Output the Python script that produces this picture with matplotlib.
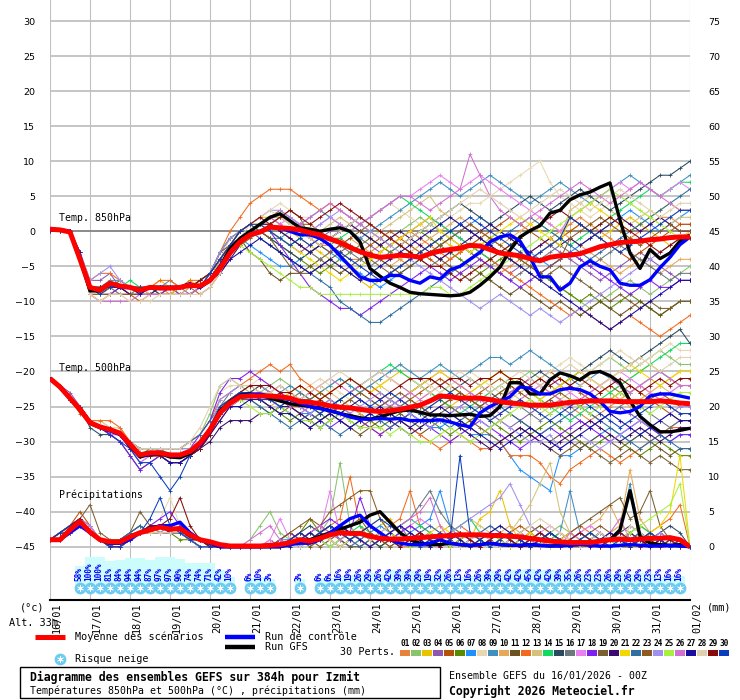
import numpy as np
import matplotlib
matplotlib.use("Agg")
import matplotlib.pyplot as plt
from matplotlib.patches import Rectangle
from matplotlib.transforms import blended_transform_factory

MONO = 'DejaVu Sans Mono'

# 6-hourly steps from 16/01 00Z to 01/02 00Z (384h) -> 65 steps, one label per day
dates = ['16/01', '17/01', '18/01', '19/01', '20/01', '21/01', '22/01', '23/01', '24/01',
         '25/01', '26/01', '27/01', '28/01', '29/01', '30/01', '31/01', '01/02']
left_ticks = [30, 25, 20, 15, 10, 5, 0, -5, -10, -15, -20, -25, -30, -35, -40, -45]
right_labels = ['75', '70', '65', '60', '55', '50', '45', '40', '35', '30',
                '25', '20', '15', '10', '5', '0']

member_colors = ['#e8823a', '#88c46a', '#e9c200', '#8e57b0', '#b5520a', '#5a8a00', '#1e90ff',
                 '#e8d8b0', '#3f8fbf', '#e8a85a', '#6b5220', '#f26b1d', '#d4c27a', '#10d860',
                 '#2a4a60', '#6c7880', '#e880f0', '#8020f0', '#7a6030', '#3a0a70', '#f0d800',
                 '#2e6ea0', '#8e5a20', '#a090f0', '#a8f040', '#d070d0', '#1a0ea0', '#e0d0b0',
                 '#8a0a0a', '#0a3cc0']

# ---- 850 hPa temperature (degC) ----
t850_mean = [0.3, 0.2, -0.1, -4, -8, -8.4, -7.4, -7.8, -8, -8.4, -8, -8.1, -8.1,
             -8, -7.7, -7.8, -7, -5.3, -3.1, -1.5, -0.5, -0.1, 0.6, 0.5, 0.4, 0.2,
             -0.2, -0.5, -1.1, -1.6, -2.3, -2.9, -3.4, -3.7, -3.6, -3.4, -3.5, -3.7, -3.2,
             -2.8, -2.6, -2.4, -2, -2.1, -2.6, -3.1, -3.3, -3.5, -3.9, -4.2, -3.7, -3.5,
             -3.4, -3.2, -2.7, -2.2, -1.9, -1.6, -1.5, -1.4, -1.2, -1.1, -0.9, -0.8, -0.8]
t850_control = [0.3, 0.2, 0, -4, -8, -8.5, -7.5, -8, -8, -8.5, -8, -8, -8,
                -8, -7.5, -8, -7, -5, -3, -1.5, -0.5, 0, 0.5, 0.5, 0, -0.5,
                -0.5, -1, -2, -3.5, -5, -6.5, -7, -7, -6.3, -6.3, -7, -7.4, -6.5,
                -6.8, -5.5, -5, -4, -3, -1.5, -0.8, -0.5, -1.4, -3.7, -6.5, -6.5, -8.4,
                -7.4, -5.1, -4.2, -5, -5.5, -7.4, -7.7, -7.7, -6.9, -5.2, -3.7, -1.9, -0.8]
t850_gfs = [0.3, 0.2, 0, -4, -8.5, -8.5, -7.5, -8, -8, -8.5, -8, -8, -8,
            -8, -7.5, -8, -7, -5, -2.5, -1, 0, 1, 2, 2.5, 1.5, 0.5,
            0.3, 0, 0.3, 0.5, 0, -1.5, -5.3, -6.4, -7.4, -8, -8.7, -8.9, -9,
            -9.1, -9.2, -9.1, -8.7, -7.7, -6.5, -5.1, -2.7, -0.8, 0.1, 0.8, 2.6, 3,
            4.5, 5.2, 5.6, 6.3, 6.9, 1.6, -3.1, -5.3, -2.6, -3.9, -3.1, -1.4, -0.5]
t850_members = [
    [0, 0, 0, -4, -9, -9, -8, -8, -9, -9, -8, -8, -9, -8, -8, -8, -7, -4, -2, -1, 0, 1, 1, 2, 1, 0,
     -1, -2, -2, -3, -4, -4, -3, -2, -3, -4, -5, -4, -3, -2, -1, -2, -3, -4, -5, -6, -5, -4, -3, -2, -1, 0,
     1, 2, 1, 0, -1, -2, -1, 0, 1, 2, 2, 1, 1],
    [0, 0, 0, -3, -8, -9, -8, -7, -8, -8, -9, -8, -8, -9, -8, -8, -6, -3, -1, 0, 0, 1, 2, 2, 1, 1,
     0, -1, -1, 0, 1, 0, -1, -2, -1, 0, 1, 2, 1, 0, -1, -2, -3, -2, -1, 0, -1, -2, -4, -6, -7, -8,
     -9, -10, -11, -10, -9, -8, -7, -8, -9, -8, -7, -6, -5],
    [0, 0, 0, -4, -8, -8, -7, -8, -8, -9, -8, -7, -8, -8, -7, -8, -7, -5, -2, 0, 1, 2, 2, 1, 0, -1,
     -2, -3, -4, -5, -6, -7, -8, -7, -6, -5, -4, -3, -2, -1, -2, -3, -2, -1, -2, -3, -4, -5, -4, -3, -2, -1,
     0, 1, 0, -1, 0, 1, 2, 1, 0, -1, -2, -1, 0],
    [0, 0, 0, -3, -7, -7, -6, -8, -9, -9, -8, -8, -8, -8, -9, -8, -7, -5, -2, -1, 0, 1, 0, -1, -2, -3,
     -2, -1, 0, 1, 0, -1, -2, -3, -2, -1, 0, 1, 2, 1, 0, -1, -2, -3, -4, -5, -6, -5, -4, -3, -2, -3,
     -4, -5, -6, -7, -6, -5, -4, -3, -4, -5, -6, -7, -7],
    [0, 0, 0, -4, -9, -10, -9, -9, -9, -10, -9, -9, -9, -8, -8, -9, -8, -6, -3, -1, 0, 1, 2, 3, 2, 1,
     1, 0, -1, -1, -2, -3, -2, -1, 0, -1, -2, -3, -4, -5, -4, -3, -2, -1, 0, 1, 2, 1, 0, -1, -2, -1,
     0, 1, 0, -1, -2, -3, -4, -3, -2, -1, 0, 1, 1],
    [0, 0, 0, -3, -8, -8, -8, -7, -8, -8, -8, -9, -9, -8, -8, -7, -6, -3, -1, 0, 1, 0, -1, -2, -3, -4,
     -5, -6, -5, -4, -3, -2, -1, -2, -3, -2, -1, 0, -1, -2, -3, -4, -5, -6, -5, -4, -3, -4, -5, -6, -7, -8,
     -9, -10, -9, -10, -11, -10, -9, -10, -11, -12, -11, -10, -10],
    [0, 0, 0, -4, -8, -9, -8, -8, -8, -9, -9, -8, -8, -8, -8, -8, -7, -4, -2, -1, -2, -3, -4, -5, -5, -4,
     -3, -2, -3, -4, -5, -6, -7, -8, -7, -6, -5, -4, -3, -2, -1, 0, 1, 2, 1, 0, -1, -2, -3, -4, -5, -4,
     -3, -2, -1, 0, 1, 2, 3, 2, 1, 0, 1, 2, 3],
    [0, 0, 0, -4, -9, -10, -9, -9, -10, -10, -9, -9, -9, -9, -9, -8, -7, -4, -1, 0, 1, 2, 3, 4, 3, 2,
     2, 3, 2, 1, 0, 1, 2, 3, 4, 3, 2, 1, 0, 1, 2, 3, 4, 4, 5, 6, 7, 8, 9, 10, 7, 5,
     4, 3, 2, 3, 4, 5, 4, 3, 2, 1, 2, 3, 3],
    [0, 0, 0, -3, -8, -8, -7, -7, -8, -8, -8, -8, -7, -8, -8, -7, -6, -4, -2, 0, 1, 0, -1, -1, 0, 1,
     2, 3, 2, 1, 0, -1, 0, 1, 2, 3, 4, 5, 6, 7, 6, 5, 6, 7, 8, 7, 6, 5, 4, 5, 6, 7,
     6, 5, 4, 5, 6, 7, 8, 7, 6, 5, 6, 7, 8],
    [0, 0, 0, -4, -9, -9, -8, -9, -9, -8, -9, -9, -9, -9, -8, -8, -7, -5, -3, -1, 0, 1, 1, 0, -1, -2,
     -3, -4, -3, -2, -1, -2, -3, -4, -5, -4, -3, -2, -1, 0, 1, 2, 1, 0, -1, -2, -1, 0, 1, 2, 1, 0,
     -1, -2, -3, -4, -5, -6, -5, -4, -5, -6, -5, -4, -4],
    [0, 0, 0, -4, -8, -9, -9, -8, -8, -9, -8, -8, -8, -8, -8, -8, -6, -3, -2, -1, -3, -4, -6, -7, -6, -6,
     -5, -4, -5, -6, -5, -4, -3, -4, -5, -6, -5, -4, -3, -4, -5, -6, -7, -6, -7, -8, -9, -8, -9, -10, -11, -10,
     -11, -12, -11, -10, -11, -12, -11, -10, -11, -12, -11, -10, -10],
    [0, 0, 0, -3, -7, -6, -6, -7, -8, -8, -8, -7, -7, -8, -7, -7, -6, -3, 0, 2, 4, 5, 6, 6, 6, 5,
     4, 3, 4, 3, 2, 1, 0, -1, -2, -1, 0, -1, -2, -3, -4, -3, -2, -3, -4, -5, -6, -7, -8, -9, -10, -11,
     -12, -11, -12, -13, -14, -13, -12, -13, -14, -15, -14, -13, -12],
    [0, 0, 0, -4, -8, -9, -9, -9, -9, -9, -9, -9, -8, -9, -9, -8, -7, -5, -3, -2, -1, 0, 1, 2, 1, 0,
     -1, 0, 1, 2, 1, 0, -1, 0, 1, 2, 3, 4, 5, 3, 2, 1, 0, -1, -2, -3, -4, -5, -4, -3, -2, -1,
     3, 4, 5, 4, 3, 2, 1, 2, 3, 2, 1, 2, 2],
    [0, 0, 0, -3, -8, -8, -8, -8, -7, -8, -8, -8, -8, -8, -8, -7, -6, -4, -2, 0, 0, 1, 0, -1, -2, -1,
     0, -1, -2, -1, 0, 1, 2, 3, 4, 5, 4, 3, 2, 1, 0, -1, -2, -3, -4, -3, -2, -1, 0, 1, 0, -1,
     -2, -1, 0, 1, 2, 3, 4, 5, 6, 5, 6, 7, 7],
    [0, 0, 0, -3, -8, -9, -8, -8, -9, -9, -8, -9, -8, -8, -8, -8, -6, -4, -2, -1, 0, 0, -1, -2, -3, -4,
     -3, -2, -1, 0, 1, 2, 1, 0, -1, -2, -1, 0, 1, 2, 3, 4, 3, 2, 1, 2, 3, 4, 5, 4, 3, 4,
     5, 6, 5, 4, 3, 4, 5, 6, 7, 8, 8, 9, 10],
    [0, 0, 0, -4, -8, -8, -8, -9, -9, -8, -8, -8, -8, -8, -8, -8, -7, -4, -2, -1, 0, 0, 1, 0, -1, -2,
     -3, -4, -3, -2, -3, -4, -5, -4, -3, -2, -3, -4, -5, -4, -3, -2, -3, -4, -5, -6, -7, -6, -5, -4, -3, -2,
     -3, -4, -5, -4, -3, -2, -3, -4, -5, -6, -7, -6, -6],
    [0, 0, 0, -4, -9, -9, -9, -9, -9, -9, -9, -9, -9, -9, -9, -8, -7, -4, -2, -1, 0, 1, 2, 1, 2, 1,
     0, 1, 2, 1, 0, 1, 2, 3, 4, 5, 5, 6, 7, 8, 7, 6, 7, 8, 7, 6, 5, 4, 3, 2, 1, 0,
     2, 3, 4, 5, 6, 7, 6, 7, 6, 5, 6, 7, 6],
    [0, 0, 0, -3, -8, -9, -9, -8, -8, -9, -9, -9, -8, -9, -9, -8, -7, -4, -2, -1, 0, 1, 0, -2, -4, -6,
     -8, -9, -10, -11, -11, -12, -11, -10, -9, -8, -7, -6, -5, -6, -7, -6, -5, -4, -5, -6, -7, -8, -7, -6, -5, -4,
     -3, -4, -5, -6, -7, -8, -9, -8, -7, -8, -8, -7, -7],
    [0, 0, 0, -4, -8, -9, -8, -8, -8, -8, -8, -8, -8, -8, -8, -7, -6, -4, -2, 0, 1, 0, -1, -3, -5, -6,
     -6, -5, -4, -3, -2, -3, -4, -5, -6, -5, -4, -3, -2, -1, 0, 1, 0, -1, -2, -3, -4, -5, -6, -7, -6, -5,
     -6, -7, -8, -9, -10, -9, -10, -11, -10, -11, -11, -10, -10],
    [0, 0, 0, -4, -8, -8, -8, -8, -9, -9, -9, -8, -8, -8, -8, -8, -7, -6, -4, -2, 0, 1, 1, 0, -1, -2,
     -3, -2, -1, 0, 1, 0, -1, -2, -1, 0, -1, -2, -3, -4, -3, -2, -1, 0, 1, 0, -1, -2, -3, -2, -1, -2,
     -1, -2, -1, 0, 1, 2, 1, 0, 1, 2, 1, 0, 0],
    [0, 0, 0, -4, -9, -9, -8, -8, -8, -9, -9, -9, -9, -8, -8, -8, -7, -4, -2, 0, 1, 1, 0, -1, -2, -3,
     -4, -5, -6, -7, -6, -5, -4, -3, -2, -1, 0, 1, 2, 0, -1, -2, -3, -2, -1, 0, 1, 2, 1, 0, -1, -2,
     2, 3, 4, 3, 2, 1, 0, 1, 2, 3, 4, 3, 3],
    [0, 0, 0, -3, -8, -8, -8, -8, -8, -8, -8, -8, -8, -8, -8, -7, -6, -3, -1, 0, 0, -1, -2, -3, -4, -5,
     -6, -7, -8, -10, -11, -12, -13, -13, -12, -11, -10, -9, -8, -7, -6, -5, -4, -3, -2, -1, 0, 1, 2, 1, 0, -1,
     -2, -3, -4, -3, -2, -1, 0, 1, 2, 3, 4, 5, 6],
    [0, 0, 0, -4, -9, -9, -9, -9, -9, -9, -9, -9, -9, -9, -9, -8, -7, -5, -3, -2, -1, 0, 1, 2, 3, 2,
     -1, -2, -3, -2, -1, 0, 1, 0, -1, -2, -3, -4, -3, -2, -1, 0, 1, 0, -1, -2, -3, -4, -5, -6, -5, -4,
     -1, 0, 1, 2, 1, 0, -1, -2, -1, 0, 1, 0, 0],
    [0, 0, 0, -3, -7, -6, -5, -7, -8, -8, -8, -8, -8, -8, -8, -8, -6, -3, -1, 0, 1, 2, 3, 3, 2, 1,
     0, 1, 2, 3, 2, 1, 0, -1, -2, -3, -4, -5, -6, -7, -8, -9, -10, -11, -10, -9, -10, -11, -12, -11, -12, -13,
     -12, -11, -10, -9, -8, -7, -6, -5, -4, -3, -2, -1, -1],
    [0, 0, 0, -4, -8, -9, -8, -8, -8, -8, -8, -8, -8, -8, -8, -8, -7, -5, -3, -2, -3, -4, -5, -6, -7, -8,
     -8, -9, -9, -9, -9, -9, -9, -9, -9, -9, -9, -9, -8, -8, -9, -9, -8, -7, -6, -5, -4, -3, -2, -1, 0, 1,
     2, 3, 4, 5, 6, 5, 4, 3, 2, 1, 0, -1, -1],
    [0, 0, 0, -4, -9, -10, -10, -10, -10, -9, -9, -9, -9, -9, -9, -8, -7, -5, -3, -1, 0, 1, 2, 1, 0, 1,
     2, 3, 4, 3, 2, 1, 2, 3, 4, 5, 5, 4, 3, 4, 5, 6, 11, 8, 5, 3, 2, 1, 2, 3, 4, 5,
     6, 7, 6, 5, 4, 5, 6, 7, 6, 5, 4, 3, 3],
    [0, 0, 0, -3, -8, -8, -8, -8, -8, -9, -8, -8, -8, -8, -8, -8, -7, -6, -4, -3, -2, -1, -2, -3, -4, -5,
     -6, -5, -4, -5, -6, -7, -6, -5, -4, -3, -2, -1, 0, 1, 2, 1, 0, -1, -2, -3, -4, -5, -6, -7, -8, -9,
     -10, -11, -12, -13, -14, -13, -12, -11, -10, -9, -8, -7, -7],
    [0, 0, 0, -4, -9, -10, -9, -9, -10, -10, -10, -9, -9, -9, -9, -9, -8, -6, -3, -1, 1, 2, 3, 2, 1, 0,
     -1, -2, -1, 0, 1, 2, 1, 0, -1, -2, -1, 0, 1, 2, 3, 4, 5, 6, 5, 4, 3, 2, 3, 4, 5, 6,
     5, 4, 3, 4, 5, 6, 5, 4, 3, 2, 3, 4, 4],
    [0, 0, 0, -4, -8, -8, -8, -8, -8, -8, -8, -8, -8, -8, -8, -7, -6, -4, -2, 0, 1, 2, 1, 2, 3, 2,
     1, 2, 3, 4, 3, 2, 1, 0, -1, -2, -3, -4, -5, -5, -6, -7, -6, -5, -4, -3, -2, -1, 0, 1, 2, 3,
     2, 1, 0, 1, 2, 1, 0, -1, -2, -3, -2, -1, -1],
    [0, 0, 0, -4, -8, -9, -8, -8, -8, -8, -8, -8, -8, -8, -8, -8, -6, -4, -2, 0, 1, 1, 0, -1, -2, -1,
     -2, -1, -2, -3, -4, -5, -6, -7, -6, -5, -4, -3, -2, -1, 0, 1, 2, 1, 0, -1, -2, -3, -4, -3, -2, -1,
     2, 1, 0, -1, -2, -3, -2, -1, 0, 1, 2, 3, 3],
]

# ---- 500 hPa temperature (degC) ----
t500_mean = [-21, -22.2, -23.8, -25.4, -27.3, -27.9, -28.3, -28.8, -30.4, -31.9, -31.6, -31.6, -31.9,
             -31.9, -31.4, -30.2, -28.3, -25.9, -24.5, -23.6, -23.5, -23.5, -23.5, -23.6, -23.8, -24.3,
             -24.4, -24.6, -24.9, -25.1, -25.2, -25.4, -25.6, -25.7, -25.6, -25.4, -25.1, -24.8, -24.2,
             -23.5, -23.6, -23.8, -23.8, -23.8, -24, -24.3, -24.5, -24.6, -24.8, -24.8, -24.8, -24.6,
             -24.4, -24.3, -24.2, -24.2, -24.2, -24.3, -24.3, -24.3, -24.3, -24.2, -24.3, -24.5, -24.6]
t500_control = [-21, -22.2, -23.8, -25.4, -27.2, -28, -28.5, -29, -30.5, -32, -31.8, -31.5, -32,
                -32, -31.5, -30.5, -28.5, -26, -24.5, -23.5, -23.3, -23.2, -23.5, -23.8, -24, -24.5,
                -25, -25.3, -25.6, -26, -26.5, -26.8, -26.8, -26.7, -26.8, -26.7, -27, -27, -27,
                -26.9, -27.2, -27.6, -27.9, -25.9, -25, -24.3, -23.6, -22.2, -22.4, -23.2, -23.2, -22.6,
                -22.4, -22.6, -23.2, -24.3, -25.7, -25.9, -25.7, -25, -23.5, -23.2, -23.2, -23.5, -23.8]
t500_gfs = [-21, -22.3, -23.9, -25.5, -27.4, -28, -28.4, -28.9, -30.6, -32.2, -31.8, -31.7, -32.2,
            -32.3, -31.7, -30.4, -28.2, -25.6, -24.3, -23.4, -23.2, -23.4, -23.8, -24.2, -24.6, -24.8,
            -25, -25.2, -25.6, -26, -26.3, -26.6, -26.8, -26.5, -26, -25.6, -25.5, -25.8, -26.2,
            -26.2, -26.3, -26.2, -26.1, -26.4, -26.3, -25, -21.6, -21.6, -23.2, -23.2, -21.2, -20.2,
            -20.6, -21.2, -20.2, -20, -20.6, -21.6, -24.2, -26.4, -27.6, -28.6, -28.6, -28.4, -28.1]
t500_members = [
    [-21, -22, -24, -25, -27, -28, -28, -29, -30, -32, -32, -31, -32, -32, -31, -30, -28, -26, -24, -23, -23, -22, -23, -24, -25, -24,
     -25, -26, -25, -24, -23, -24, -25, -26, -25, -24, -23, -22, -23, -24, -25, -26, -27, -26, -25, -24, -23, -22, -21, -22, -23, -24,
     -25, -26, -27, -26, -25, -24, -23, -22, -23, -24, -25, -26, -26],
    [-21, -22, -24, -25, -27, -27, -28, -28, -30, -31, -31, -31, -31, -31, -30, -29, -26, -22, -21, -22, -23, -23, -22, -21, -22, -23,
     -24, -23, -22, -21, -22, -23, -24, -25, -26, -27, -26, -25, -24, -23, -22, -23, -24, -25, -24, -23, -22, -21, -20, -21, -22, -23,
     -22, -21, -20, -19, -18, -19, -20, -19, -18, -17, -18, -19, -19],
    [-21, -22, -24, -25, -27, -28, -28, -29, -30, -32, -32, -32, -32, -32, -31, -30, -28, -26, -24, -23, -23, -23, -24, -24, -24, -25,
     -25, -24, -23, -22, -21, -22, -23, -22, -21, -20, -21, -22, -23, -24, -25, -24, -23, -22, -21, -20, -21, -22, -23, -24, -23, -22,
     -21, -20, -21, -22, -23, -22, -21, -20, -19, -20, -21, -20, -20],
    [-21, -22, -23, -25, -27, -28, -28, -29, -31, -33, -32, -32, -33, -33, -32, -31, -29, -26, -25, -24, -23, -23, -24, -25, -26, -27,
     -26, -25, -26, -27, -28, -27, -26, -25, -24, -25, -26, -27, -28, -27, -26, -25, -24, -25, -26, -27, -28, -27, -26, -25, -24, -25,
     -26, -27, -28, -27, -26, -25, -26, -27, -28, -29, -28, -27, -27],
    [-21, -22, -24, -26, -27, -28, -29, -29, -30, -32, -32, -32, -32, -32, -32, -31, -29, -27, -25, -24, -24, -23, -23, -24, -25, -25,
     -26, -27, -26, -25, -24, -23, -22, -23, -24, -25, -24, -23, -22, -21, -22, -23, -24, -23, -22, -21, -22, -23, -22, -21, -20, -21,
     -22, -23, -24, -25, -24, -23, -22, -23, -24, -25, -26, -27, -27],
    [-21, -22, -24, -25, -27, -28, -28, -29, -30, -31, -31, -31, -31, -31, -31, -30, -28, -25, -24, -23, -23, -24, -25, -26, -27, -26,
     -25, -26, -27, -26, -25, -26, -27, -28, -27, -26, -25, -26, -27, -28, -29, -28, -27, -26, -27, -28, -29, -30, -29, -28, -27, -28,
     -29, -30, -31, -30, -29, -30, -31, -32, -31, -30, -31, -32, -32],
    [-21, -22, -24, -25, -27, -28, -28, -29, -30, -32, -31, -31, -32, -32, -31, -30, -28, -25, -24, -23, -23, -24, -24, -25, -25, -26,
     -26, -25, -24, -25, -26, -27, -26, -25, -24, -25, -26, -27, -28, -28, -27, -28, -29, -29, -29, -30, -32, -34, -35, -36, -37, -32,
     -32, -31, -30, -29, -28, -29, -30, -29, -28, -29, -30, -29, -29],
    [-21, -22, -24, -25, -27, -27, -28, -28, -30, -31, -31, -31, -31, -31, -30, -29, -27, -23, -22, -22, -22, -21, -22, -23, -24, -23,
     -22, -21, -22, -23, -24, -23, -22, -21, -20, -19, -20, -21, -22, -23, -22, -21, -20, -21, -22, -23, -24, -23, -22, -21, -20, -19,
     -18, -19, -20, -19, -18, -17, -18, -19, -18, -17, -16, -17, -17],
    [-21, -22, -24, -25, -27, -28, -28, -29, -30, -32, -32, -31, -31, -31, -31, -30, -28, -25, -24, -23, -23, -24, -24, -23, -22, -23,
     -24, -23, -22, -21, -22, -23, -22, -21, -20, -19, -20, -21, -20, -19, -20, -21, -20, -19, -18, -18, -19, -18, -17, -18, -19, -20,
     -21, -22, -21, -20, -21, -22, -23, -22, -21, -20, -21, -22, -22],
    [-21, -22, -24, -25, -27, -28, -29, -29, -30, -32, -32, -32, -32, -32, -32, -31, -28, -26, -24, -23, -23, -24, -25, -24, -23, -24,
     -25, -26, -25, -24, -25, -26, -27, -26, -25, -24, -25, -26, -25, -24, -23, -24, -25, -26, -27, -26, -25, -24, -23, -22, -23, -24,
     -25, -24, -23, -22, -23, -24, -25, -24, -23, -22, -21, -22, -22],
    [-21, -22, -24, -25, -27, -28, -28, -29, -30, -32, -32, -32, -33, -33, -32, -31, -29, -26, -25, -24, -24, -25, -26, -25, -26, -27,
     -28, -27, -26, -27, -28, -29, -28, -27, -26, -27, -28, -29, -28, -27, -26, -27, -28, -29, -28, -27, -26, -27, -28, -29, -30, -29,
     -30, -31, -30, -29, -30, -31, -30, -29, -30, -31, -32, -31, -31],
    [-21, -22, -24, -25, -27, -27, -27, -28, -30, -31, -31, -31, -31, -31, -30, -29, -27, -24, -23, -22, -21, -20, -19, -20, -19, -21,
     -22, -23, -24, -25, -26, -27, -28, -29, -28, -27, -28, -29, -30, -31, -30, -29, -30, -31, -31, -30, -32, -32, -32, -33, -35, -36,
     -34, -33, -32, -31, -32, -33, -32, -31, -30, -29, -28, -28, -28],
    [-21, -22, -24, -25, -27, -28, -28, -29, -30, -32, -32, -32, -32, -32, -31, -30, -28, -25, -24, -23, -23, -23, -23, -24, -24, -24,
     -23, -22, -23, -24, -23, -22, -21, -22, -23, -24, -25, -24, -23, -22, -23, -24, -25, -24, -23, -22, -23, -24, -25, -26, -25, -24,
     -23, -22, -21, -22, -23, -24, -23, -22, -21, -22, -23, -22, -22],
    [-21, -22, -24, -25, -27, -28, -28, -29, -30, -32, -31, -31, -32, -32, -31, -30, -28, -25, -24, -23, -23, -23, -24, -25, -26, -27,
     -27, -26, -25, -24, -23, -22, -21, -20, -19, -20, -21, -22, -23, -24, -25, -26, -25, -24, -23, -22, -21, -22, -23, -24, -25, -26,
     -27, -26, -25, -24, -23, -22, -21, -20, -19, -18, -17, -16, -16],
    [-21, -22, -24, -25, -28, -29, -29, -30, -32, -34, -33, -32, -33, -33, -32, -31, -29, -26, -24, -23, -23, -22, -23, -24, -25, -24,
     -23, -24, -25, -24, -23, -22, -23, -24, -25, -24, -23, -22, -21, -22, -23, -22, -21, -22, -23, -24, -23, -22, -21, -20, -21, -22,
     -21, -20, -19, -18, -17, -18, -19, -18, -17, -16, -15, -14, -16],
    [-21, -22, -24, -25, -27, -28, -28, -29, -31, -32, -32, -32, -32, -32, -31, -30, -28, -25, -23, -22, -22, -23, -24, -25, -24, -23,
     -24, -25, -26, -25, -24, -25, -26, -27, -26, -25, -24, -25, -26, -25, -24, -23, -24, -25, -26, -25, -24, -25, -26, -27, -26, -25,
     -24, -25, -26, -27, -26, -25, -24, -25, -26, -27, -28, -27, -27],
    [-21, -22, -24, -25, -27, -28, -29, -29, -31, -33, -32, -32, -33, -33, -32, -31, -29, -26, -25, -24, -24, -23, -24, -25, -25, -26,
     -25, -24, -23, -22, -21, -22, -23, -24, -25, -24, -23, -22, -21, -20, -21, -22, -23, -24, -25, -26, -25, -24, -23, -22, -21, -22,
     -23, -24, -23, -22, -21, -20, -21, -22, -23, -24, -23, -22, -22],
    [-21, -22, -24, -25, -27, -28, -29, -30, -32, -34, -33, -32, -32, -32, -31, -29, -27, -23, -21, -21, -20, -21, -22, -23, -24, -25,
     -26, -27, -28, -27, -26, -27, -28, -29, -28, -27, -26, -27, -28, -29, -30, -29, -28, -27, -28, -29, -30, -31, -30, -29, -28, -29,
     -28, -27, -28, -29, -30, -29, -28, -27, -28, -29, -30, -29, -29],
    [-21, -22, -24, -25, -27, -28, -28, -29, -30, -32, -32, -32, -32, -32, -31, -30, -28, -25, -24, -24, -23, -24, -25, -26, -25, -26,
     -27, -26, -25, -26, -27, -28, -27, -26, -25, -26, -27, -28, -27, -26, -25, -26, -27, -28, -29, -30, -29, -28, -29, -30, -31, -32,
     -31, -30, -31, -32, -33, -32, -31, -32, -33, -32, -33, -34, -34],
    [-21, -22, -24, -25, -27, -28, -28, -29, -31, -32, -32, -32, -33, -33, -32, -31, -30, -28, -27, -27, -27, -26, -26, -25, -25, -26,
     -27, -28, -27, -26, -25, -24, -25, -26, -27, -28, -29, -28, -27, -26, -27, -28, -29, -30, -31, -30, -29, -28, -29, -30, -31, -30,
     -29, -28, -27, -28, -29, -30, -29, -28, -29, -30, -29, -28, -28],
    [-21, -22, -24, -25, -27, -28, -28, -29, -30, -32, -32, -32, -32, -32, -31, -30, -28, -25, -24, -23, -23, -23, -24, -24, -23, -22,
     -23, -24, -23, -22, -21, -22, -23, -22, -21, -22, -23, -22, -21, -20, -21, -22, -23, -22, -21, -20, -21, -22, -23, -24, -23, -22,
     -21, -20, -21, -22, -21, -20, -19, -20, -21, -22, -21, -20, -20],
    [-21, -22, -24, -25, -27, -28, -28, -29, -30, -31, -31, -31, -31, -31, -30, -29, -27, -25, -24, -24, -24, -25, -26, -27, -28, -27,
     -26, -27, -28, -29, -28, -27, -26, -27, -28, -27, -26, -25, -26, -27, -28, -27, -26, -25, -24, -25, -26, -27, -28, -29, -28, -27,
     -26, -25, -26, -27, -28, -29, -30, -31, -30, -29, -30, -31, -31],
    [-21, -22, -24, -25, -27, -28, -28, -29, -30, -32, -32, -32, -32, -32, -32, -31, -29, -26, -24, -23, -22, -22, -23, -22, -23, -24,
     -24, -23, -24, -25, -24, -23, -24, -25, -24, -23, -24, -25, -26, -25, -24, -23, -24, -25, -24, -23, -22, -23, -24, -25, -24, -23,
     -24, -25, -24, -23, -22, -23, -24, -25, -24, -23, -24, -25, -25],
    [-21, -22, -24, -25, -27, -28, -28, -29, -30, -32, -32, -31, -31, -31, -31, -30, -28, -24, -23, -22, -22, -22, -23, -24, -24, -25,
     -26, -25, -24, -25, -26, -25, -24, -23, -24, -25, -26, -27, -28, -27, -26, -25, -26, -27, -28, -27, -28, -29, -30, -30, -29, -31,
     -30, -29, -30, -31, -30, -29, -28, -27, -28, -27, -26, -25, -25],
    [-21, -22, -24, -25, -27, -28, -28, -29, -30, -32, -32, -32, -32, -32, -31, -30, -28, -25, -24, -24, -25, -26, -26, -25, -26, -27,
     -27, -28, -27, -26, -27, -28, -28, -28, -29, -28, -29, -30, -30, -29, -28, -29, -30, -29, -28, -27, -26, -25, -24, -25, -26, -25,
     -24, -25, -26, -25, -24, -23, -24, -25, -26, -25, -24, -23, -23],
    [-21, -22, -24, -25, -27, -28, -28, -29, -31, -32, -32, -32, -32, -32, -31, -30, -28, -25, -24, -23, -23, -23, -24, -24, -25, -24,
     -23, -22, -21, -22, -23, -22, -21, -20, -21, -22, -23, -24, -23, -22, -21, -22, -23, -24, -25, -24, -23, -22, -21, -22, -23, -24,
     -25, -24, -23, -22, -21, -22, -23, -22, -21, -20, -21, -22, -22],
    [-21, -22, -24, -25, -27, -28, -28, -29, -31, -32, -32, -32, -33, -33, -32, -31, -29, -27, -25, -25, -24, -24, -25, -26, -26, -27,
     -28, -27, -26, -27, -28, -27, -26, -25, -26, -27, -28, -27, -26, -25, -26, -27, -28, -29, -30, -31, -30, -29, -28, -29, -30, -31,
     -30, -29, -28, -27, -26, -27, -28, -29, -28, -27, -26, -27, -27],
    [-21, -22, -24, -25, -27, -28, -28, -29, -30, -31, -31, -31, -31, -31, -30, -28, -25, -22, -21, -22, -22, -23, -23, -22, -23, -24,
     -23, -22, -21, -20, -21, -22, -21, -20, -21, -22, -21, -22, -23, -22, -21, -20, -21, -22, -23, -22, -21, -20, -21, -22, -21, -20,
     -19, -20, -21, -22, -21, -20, -19, -18, -19, -20, -19, -18, -18],
    [-21, -22, -24, -25, -27, -28, -28, -29, -30, -32, -32, -32, -32, -32, -32, -31, -29, -26, -24, -23, -22, -22, -22, -23, -23, -22,
     -23, -24, -23, -22, -21, -22, -23, -24, -23, -22, -21, -21, -21, -22, -21, -21, -22, -21, -21, -20, -21, -21, -22, -21, -22, -21,
     -22, -21, -22, -23, -22, -21, -22, -23, -22, -21, -22, -21, -21],
    [-21, -22, -24, -25, -27, -28, -29, -30, -31, -33, -33, -35, -37, -35, -32, -30, -28, -25, -24, -23, -23, -24, -24, -25, -24, -24,
     -25, -26, -25, -24, -23, -24, -25, -24, -23, -24, -25, -26, -25, -24, -23, -24, -25, -26, -27, -26, -25, -24, -25, -26, -27, -26,
     -25, -24, -25, -26, -27, -28, -27, -26, -25, -24, -25, -26, -26],
]

# ---- 6h precipitation (mm), drawn on the -45 baseline ----
precip_mean = [1, 1, 2.4, 3.6, 2.1, 1, 0.7, 0.7, 1.4, 2, 2.4, 2.8, 2.5,
               2.6, 1.7, 1, 0.7, 0.3, 0.1, 0.1, 0.1, 0.1, 0.2, 0.3, 0.6, 1,
               0.8, 1.2, 1.7, 2, 1.9, 1.9, 1.5, 1.2, 1.1, 1.1, 1.2, 1.3, 1.4,
               1.5, 1.6, 1.7, 1.7, 1.7, 1.6, 1.6, 1.5, 1.4, 1.2, 1, 0.8, 0.7,
               0.6, 0.6, 0.6, 0.8, 1, 1.1, 1, 1.1, 1.2, 1.2, 1.3, 1, 0]
precip_control = [1, 1, 2, 3, 2, 1, 0.5, 0.5, 1, 2, 2.5, 3, 3,
                  3.5, 2, 1, 0.5, 0, 0, 0, 0, 0, 0, 0, 0.3, 0.5,
                  0.5, 1, 2, 3, 4, 4.5, 3, 2, 1, 0.5, 0.3, 0.3, 0.5,
                  1, 0.5, 0.3, 0.2, 0.3, 0.5, 0.3, 0.2, 0.2, 0.3, 0.2, 0.1, 0.1,
                  0.2, 0.3, 0.2, 0.1, 0.1, 0.2, 0.3, 0.2, 0.1, 0.1, 0.2, 0.1, 0]
precip_gfs = [1, 1, 2.5, 3.5, 2, 1, 0.5, 0.5, 1.5, 2, 2.5, 3, 2.5,
              2.5, 1.5, 1, 0.5, 0, 0, 0, 0, 0, 0, 0, 0.5, 1,
              1, 1.5, 2, 2.5, 3, 3.5, 4.5, 5, 3.5, 2, 1, 0.5, 0.3,
              0.3, 0.5, 0.3, 0.2, 0.3, 0.5, 0.3, 0.2, 0.2, 0.3, 0.2, 0.1, 0.2,
              0.3, 0.5, 0.5, 0.8, 1, 2.4, 8, 1.5, 0.5, 0.3, 0.2, 0.3, 0]
precip_members = [
    [1, 2, 3, 4, 2, 1, 0, 0, 1, 2, 3, 2, 2, 3, 2, 1, 0, 0, 0, 0, 0, 0, 0, 0, 1, 0,
     1, 2, 1, 0, 1, 2, 1, 0, 1, 0, 0, 1, 2, 1, 0, 1, 0, 0, 1, 2, 1, 0, 0, 1, 2, 1,
     0, 0, 1, 0, 0, 1, 2, 3, 2, 1, 0, 1, 0],
    [1, 1, 2, 3, 2, 1, 0, 1, 1, 2, 2, 3, 2, 2, 1, 1, 0, 0, 0, 0, 1, 3, 5, 2, 1, 0,
     1, 2, 4, 12, 3, 1, 0, 1, 2, 1, 0, 0, 1, 2, 1, 0, 0, 1, 2, 3, 2, 1, 0, 1, 2, 3,
     2, 1, 0, 0, 1, 0, 1, 2, 1, 0, 0, 1, 0],
    [1, 2, 2, 3, 2, 1, 0, 0, 1, 2, 2, 2, 3, 2, 2, 1, 0, 0, 0, 0, 0, 0, 0, 1, 2, 1,
     0, 1, 2, 3, 2, 1, 2, 3, 4, 2, 1, 0, 1, 2, 3, 2, 1, 4, 5, 8, 3, 1, 0, 0, 1, 2,
     1, 0, 0, 1, 0, 1, 0, 0, 1, 2, 1, 0, 0],
    [1, 1, 3, 4, 3, 1, 0, 1, 2, 3, 2, 2, 2, 2, 1, 1, 0, 0, 0, 0, 0, 0, 1, 0, 0, 1,
     2, 1, 0, 1, 2, 1, 0, 1, 2, 3, 1, 0, 0, 1, 2, 1, 0, 1, 2, 1, 0, 1, 2, 1, 0, 1,
     2, 1, 0, 0, 1, 2, 1, 0, 1, 0, 0, 1, 0],
    [1, 2, 3, 5, 3, 1, 0, 0, 1, 2, 3, 3, 2, 2, 1, 0, 0, 0, 0, 0, 0, 0, 0, 1, 0, 1,
     2, 3, 2, 1, 0, 1, 2, 1, 0, 1, 2, 1, 0, 1, 0, 1, 2, 1, 0, 1, 2, 3, 2, 1, 0, 1,
     0, 0, 1, 2, 1, 0, 0, 1, 0, 0, 1, 0, 0],
    [1, 2, 3, 3, 2, 1, 0, 1, 1, 2, 2, 3, 2, 1, 1, 0, 0, 0, 0, 0, 0, 0, 0, 0, 1, 2,
     4, 2, 1, 0, 1, 2, 1, 0, 1, 2, 1, 0, 1, 0, 1, 2, 1, 0, 1, 2, 1, 0, 1, 2, 1, 0,
     1, 0, 1, 2, 1, 0, 0, 1, 0, 1, 0, 0, 0],
    [1, 1, 2, 3, 2, 1, 0, 0, 1, 2, 3, 2, 2, 2, 1, 0, 0, 0, 0, 0, 0, 0, 0, 1, 1, 0,
     1, 2, 3, 1, 0, 1, 2, 3, 2, 1, 2, 3, 4, 8, 3, 1, 0, 1, 2, 1, 0, 1, 0, 1, 2, 1,
     0, 1, 2, 1, 0, 0, 1, 2, 1, 0, 1, 0, 0],
    [1, 2, 3, 4, 2, 1, 0, 0, 1, 2, 3, 4, 7, 3, 1, 0, 0, 0, 0, 0, 0, 0, 0, 0, 0, 1,
     2, 1, 0, 1, 2, 1, 0, 1, 2, 1, 0, 1, 2, 1, 0, 1, 2, 1, 0, 1, 2, 1, 0, 1, 0, 1,
     2, 1, 0, 1, 0, 1, 2, 1, 0, 0, 1, 0, 0],
    [1, 2, 2, 3, 2, 1, 0, 0, 1, 2, 2, 3, 2, 2, 1, 1, 0, 0, 0, 0, 0, 0, 0, 0, 1, 0,
     1, 2, 1, 0, 1, 2, 1, 2, 3, 2, 1, 0, 1, 2, 1, 0, 1, 2, 1, 0, 1, 2, 1, 0, 1, 2,
     8, 2, 1, 0, 1, 2, 9, 2, 1, 0, 1, 0, 0],
    [1, 2, 3, 3, 2, 1, 0, 1, 1, 2, 3, 2, 2, 2, 1, 1, 0, 0, 0, 0, 0, 0, 0, 0, 0, 1,
     1, 0, 1, 2, 1, 0, 1, 2, 1, 0, 1, 2, 1, 0, 1, 2, 1, 0, 1, 2, 3, 2, 1, 0, 1, 2,
     1, 2, 3, 4, 6, 3, 11, 4, 2, 1, 0, 1, 0],
    [1, 1, 2, 3, 2, 1, 0, 0, 1, 2, 2, 2, 2, 2, 1, 0, 0, 0, 0, 0, 0, 0, 0, 1, 2, 1,
     0, 1, 2, 1, 0, 0, 1, 2, 1, 0, 1, 2, 1, 0, 1, 0, 1, 2, 1, 0, 1, 2, 3, 2, 1, 0,
     1, 2, 1, 0, 1, 2, 1, 0, 2, 1, 0, 1, 0],
    [1, 2, 3, 4, 3, 1, 0, 0, 1, 2, 2, 3, 2, 2, 1, 1, 0, 0, 0, 0, 0, 0, 0, 0, 1, 2,
     1, 2, 3, 4, 10, 3, 1, 2, 3, 4, 8, 3, 2, 1, 2, 3, 2, 1, 0, 1, 2, 1, 2, 3, 2, 1,
     2, 3, 2, 1, 2, 3, 2, 1, 2, 3, 4, 6, 0],
    [1, 2, 2, 3, 2, 1, 0, 0, 1, 2, 2, 2, 3, 2, 1, 0, 0, 0, 0, 0, 0, 0, 0, 0, 0, 1,
     2, 1, 0, 1, 2, 1, 0, 1, 2, 1, 0, 1, 2, 1, 2, 3, 4, 3, 2, 1, 2, 4, 6, 9, 12, 5,
     2, 1, 0, 1, 2, 3, 2, 1, 0, 1, 0, 0, 0],
    [1, 2, 3, 4, 2, 1, 0, 0, 1, 2, 3, 2, 2, 2, 1, 1, 0, 0, 0, 0, 0, 0, 0, 0, 0, 1,
     2, 1, 0, 1, 2, 3, 2, 1, 2, 3, 4, 3, 2, 1, 2, 3, 4, 2, 1, 0, 1, 2, 1, 0, 1, 2,
     1, 0, 1, 2, 1, 0, 2, 3, 2, 1, 0, 0, 0],
    [1, 1, 2, 3, 2, 1, 0, 1, 2, 3, 2, 2, 2, 2, 1, 0, 0, 0, 0, 0, 0, 0, 0, 0, 1, 2,
     3, 2, 1, 0, 1, 2, 1, 0, 1, 2, 3, 2, 1, 0, 1, 2, 1, 0, 1, 2, 1, 0, 1, 2, 1, 0,
     1, 2, 1, 0, 1, 2, 3, 2, 1, 2, 3, 2, 0],
    [1, 2, 3, 3, 2, 1, 0, 0, 1, 2, 2, 3, 2, 2, 1, 0, 0, 0, 0, 0, 0, 0, 0, 1, 0, 1,
     2, 1, 2, 3, 2, 1, 0, 1, 2, 3, 4, 6, 8, 5, 3, 2, 1, 0, 1, 2, 1, 0, 1, 2, 1, 0,
     1, 0, 1, 2, 1, 0, 1, 2, 1, 0, 0, 1, 0],
    [1, 2, 3, 4, 3, 1, 0, 0, 1, 2, 2, 2, 2, 2, 1, 1, 0, 0, 0, 0, 0, 0, 1, 4, 1, 0,
     1, 2, 8, 2, 1, 2, 3, 2, 1, 2, 3, 4, 3, 2, 1, 0, 1, 2, 3, 2, 1, 0, 1, 2, 3, 2,
     1, 2, 3, 2, 1, 0, 1, 2, 1, 0, 1, 0, 0],
    [1, 2, 3, 4, 2, 1, 0, 0, 1, 2, 3, 4, 5, 3, 2, 1, 0, 0, 0, 0, 0, 0, 0, 1, 2, 1,
     2, 3, 4, 3, 2, 7, 3, 2, 1, 2, 3, 2, 1, 0, 1, 2, 1, 0, 1, 2, 1, 0, 1, 2, 1, 0,
     1, 2, 1, 0, 1, 2, 1, 0, 1, 2, 1, 0, 0],
    [1, 2, 3, 4, 6, 2, 1, 1, 2, 5, 3, 2, 2, 2, 1, 0, 0, 0, 0, 0, 0, 0, 0, 0, 1, 2,
     1, 0, 1, 2, 3, 4, 2, 1, 0, 1, 2, 1, 0, 1, 2, 1, 0, 1, 2, 1, 0, 1, 2, 3, 2, 1,
     2, 3, 4, 5, 6, 7, 4, 5, 8, 3, 1, 0, 0],
    [1, 1, 2, 3, 2, 1, 0, 0, 1, 2, 2, 2, 2, 2, 1, 0, 0, 0, 0, 0, 0, 0, 0, 0, 0, 1,
     2, 1, 2, 3, 2, 1, 0, 1, 2, 1, 0, 1, 2, 1, 0, 1, 2, 1, 0, 1, 2, 1, 0, 1, 2, 1,
     0, 1, 2, 1, 0, 1, 2, 1, 0, 1, 0, 1, 0],
    [1, 2, 3, 3, 2, 1, 0, 0, 1, 2, 3, 2, 2, 2, 1, 1, 0, 0, 0, 0, 0, 0, 0, 0, 0, 1,
     1, 2, 1, 0, 1, 2, 3, 4, 2, 1, 0, 1, 2, 3, 2, 1, 0, 1, 2, 1, 0, 1, 2, 1, 0, 1,
     2, 1, 0, 1, 2, 1, 0, 1, 2, 3, 5, 13, 0],
    [1, 2, 2, 3, 2, 1, 0, 1, 2, 3, 2, 2, 2, 2, 1, 0, 0, 0, 0, 0, 0, 0, 0, 0, 1, 0,
     1, 2, 3, 2, 1, 0, 1, 2, 1, 0, 1, 2, 3, 2, 1, 0, 1, 2, 3, 2, 1, 0, 1, 2, 1, 0,
     1, 0, 1, 2, 1, 0, 1, 2, 1, 0, 1, 0, 0],
    [1, 1, 2, 3, 2, 1, 0, 0, 1, 2, 2, 3, 2, 2, 1, 0, 0, 0, 0, 0, 0, 0, 0, 1, 2, 3,
     4, 3, 5, 6, 7, 8, 8, 4, 2, 1, 0, 1, 2, 1, 0, 1, 2, 1, 0, 1, 2, 1, 0, 1, 2, 1,
     0, 1, 2, 3, 2, 1, 0, 1, 2, 1, 0, 1, 0],
    [1, 2, 3, 4, 3, 1, 0, 0, 1, 2, 2, 2, 3, 2, 1, 1, 0, 0, 0, 0, 0, 0, 0, 0, 0, 1,
     2, 1, 0, 1, 2, 1, 0, 1, 2, 3, 2, 1, 0, 1, 2, 3, 4, 5, 6, 7, 9, 6, 3, 2, 1, 0,
     1, 2, 1, 0, 1, 2, 1, 0, 1, 2, 1, 0, 0],
    [1, 2, 3, 3, 2, 1, 0, 0, 1, 2, 2, 2, 2, 2, 1, 0, 0, 0, 0, 0, 0, 0, 0, 0, 0, 1,
     2, 1, 0, 1, 2, 1, 0, 1, 2, 1, 0, 1, 2, 1, 0, 1, 2, 1, 0, 1, 2, 1, 0, 1, 2, 1,
     0, 1, 2, 1, 0, 1, 2, 3, 4, 5, 6, 9, 0],
    [1, 1, 2, 3, 2, 1, 0, 0, 1, 2, 3, 2, 2, 2, 1, 0, 0, 0, 0, 0, 1, 2, 3, 1, 0, 1,
     2, 3, 2, 1, 2, 1, 0, 1, 2, 3, 4, 5, 7, 3, 1, 0, 1, 2, 1, 0, 1, 2, 1, 0, 1, 0,
     2, 1, 0, 1, 2, 4, 1, 0, 1, 0, 0, 1, 0],
    [1, 2, 3, 4, 2, 1, 0, 0, 1, 2, 3, 3, 2, 2, 1, 1, 0, 0, 0, 0, 0, 0, 0, 0, 0, 1,
     2, 1, 2, 3, 2, 1, 0, 1, 2, 3, 2, 1, 0, 1, 2, 1, 0, 1, 2, 3, 2, 1, 0, 1, 2, 1,
     0, 1, 0, 1, 2, 1, 0, 1, 0, 1, 0, 0, 0],
    [1, 2, 3, 3, 2, 1, 0, 0, 1, 2, 2, 2, 2, 2, 1, 0, 0, 0, 0, 0, 0, 0, 0, 0, 1, 0,
     1, 2, 1, 0, 1, 2, 1, 2, 3, 2, 1, 0, 1, 2, 1, 0, 1, 2, 1, 0, 1, 2, 3, 4, 3, 2,
     1, 0, 1, 2, 1, 0, 3, 2, 1, 0, 1, 0, 0],
    [1, 2, 3, 4, 2, 1, 0, 0, 1, 2, 3, 3, 4, 7, 3, 1, 0, 0, 0, 0, 0, 0, 0, 0, 1, 2,
     1, 2, 3, 2, 1, 2, 3, 2, 1, 0, 1, 2, 1, 0, 1, 2, 1, 0, 1, 2, 1, 0, 1, 2, 1, 0,
     1, 2, 1, 0, 1, 2, 1, 0, 1, 0, 1, 0, 0],
    [1, 2, 3, 3, 2, 1, 0, 0, 1, 2, 4, 7, 3, 2, 1, 0, 0, 0, 0, 0, 0, 0, 0, 0, 1, 2,
     1, 2, 3, 2, 1, 2, 3, 4, 3, 2, 1, 0, 1, 2, 1, 13, 2, 1, 0, 1, 2, 1, 0, 1, 2, 1,
     0, 1, 2, 1, 0, 1, 0, 1, 2, 1, 0, 1, 0],
]

# snow risk (% of members) per 6h step
snow_steps = [3, 4, 5, 6, 7, 8, 9, 10, 11, 12, 13, 14, 15, 16, 17, 18, 20, 21, 22, 25,
              27, 28, 29, 30, 31, 32, 33, 34, 35, 36, 37, 38, 39, 40, 41, 42, 43, 44, 45,
              46, 47, 48, 49, 50, 51, 52, 53, 54, 55, 56, 57, 58, 59, 60, 61, 62, 63]
snow_pct = [58, 100, 100, 81, 84, 94, 94, 87, 97, 97, 90, 74, 74, 71, 42, 10, 6, 10, 3, 3,
            6, 6, 16, 19, 26, 29, 26, 42, 39, 39, 29, 19, 32, 26, 13, 16, 26, 39, 29,
            42, 42, 45, 42, 42, 39, 35, 26, 23, 23, 26, 29, 26, 29, 23, 13, 16, 16]

PRECIP_BASE = -45

fig = plt.figure(figsize=(7.4, 7.0), dpi=100)
ax = fig.add_axes([50 / 740, 100 / 700, 640 / 740, 600 / 700])
ax.set_xlim(0, 64)
ax.set_ylim(-52.6, 33.0)

# grid
for d in range(len(dates)):
    ax.axvline(4 * d, color='#c0c0c0', lw=0.8, zorder=0.5)
for t in left_ticks:
    ax.axhline(t, color='#c0c0c0', lw=1.3, zorder=0.5)
ax.axhline(0, color='#8c8c8c', lw=1.4, zorder=0.6)

for s in ['top', 'left', 'right']:
    ax.spines[s].set_visible(False)
ax.spines['bottom'].set_color('black')
ax.spines['bottom'].set_linewidth(1.5)

ax.set_xticks([])
ax.set_yticks(left_ticks)
ax.tick_params(axis='y', length=0, pad=10.5, labelsize=6.8)

ax2 = ax.twinx()
ax2.set_ylim(ax.get_ylim())
ax2.set_yticks(left_ticks)
ax2.set_yticklabels(right_labels)
ax2.tick_params(axis='y', length=0, pad=13, labelsize=6.8)
for s in ax2.spines.values():
    s.set_visible(False)


def draw_members(series, offset=0):
    for k, vals in enumerate(series):
        y = np.array(vals, float) + offset
        ax.plot(np.arange(len(y)), y, color=member_colors[k], lw=0.75,
                marker='+', ms=2.5, mew=0.6, zorder=2)


def draw_main(gfs, control, mean, offset=0):
    for vals, c, w, z in [(gfs, 'black', 2.4, 3), (control, '#0000ff', 2.4, 3.5),
                          (mean, '#ff0000', 3.6, 4)]:
        y = np.array(vals, float) + offset
        ax.plot(np.arange(len(y)), y, color=c, lw=w, zorder=z, solid_capstyle='butt')


draw_members(t850_members)
draw_members(t500_members)
draw_members(precip_members, PRECIP_BASE)
draw_main(t850_gfs, t850_control, t850_mean)
draw_main(t500_gfs, t500_control, t500_mean)
draw_main(precip_gfs, precip_control, precip_mean, PRECIP_BASE)

# snow risk strip
for s, p in zip(snow_steps, snow_pct):
    top = -49.7 + 0.0329 * p
    ax.bar(s, top + 51.1, bottom=-51.1, width=1.0, color='#ccfcfc', lw=0, zorder=1)
    ax.text(s - 0.1, -49.85, f'{p}%', rotation=90, ha='center', va='bottom',
            fontsize=5.6, color='#0000ff', family=MONO, weight='bold', zorder=5)
ax.scatter(snow_steps, [-50.85] * len(snow_steps), s=72, color='#6ccbf0', lw=0, zorder=5)
ax.scatter(snow_steps, [-50.85] * len(snow_steps), s=20, marker=(6, 2, 0), color='white',
           lw=0.5, zorder=6)

# overlay in pixel coordinates for labels and legend
ov = fig.add_axes([0, 0, 1, 1], zorder=10)
ov.set_xlim(0, 740)
ov.set_ylim(700, 0)
ov.axis('off')
ov.patch.set_alpha(0)

date_tr = blended_transform_factory(ax.transData, ov.transData)
for d, lab in enumerate(dates):
    ov.text(4 * d + 0.2, 602, lab, rotation=90, ha='left', va='top', fontsize=7.3,
            family=MONO, transform=date_tr)

ov.text(59, 218, 'Temp. 850hPa', va='center', fontsize=7.1, family=MONO)
ov.text(59, 368, 'Temp. 500hPa', va='center', fontsize=7.1, family=MONO)
ov.text(59, 495, 'Précipitations', va='center', fontsize=7.1, family=MONO)

ov.text(20, 607, '(°c)', va='center', fontsize=7.3, family=MONO)
ov.text(9, 623, 'Alt. 33m', va='center', fontsize=7.3, family=MONO)
ov.text(707, 607, '(mm)', va='center', fontsize=7.3, family=MONO)

ov.plot([35, 65], [637, 637], color='#ff0000', lw=3.6, solid_capstyle='butt')
ov.text(75, 637, 'Moyenne des scénarios', va='center', fontsize=7.3, family=MONO)
ov.plot([225, 255], [637, 637], color='#0000ff', lw=3.2, solid_capstyle='butt')
ov.text(265, 637, 'Run de contrôle', va='center', fontsize=7.3, family=MONO)
ov.plot([225, 255], [647, 647], color='black', lw=3.2, solid_capstyle='butt')
ov.text(265, 647, 'Run GFS', va='center', fontsize=7.3, family=MONO)
ov.scatter([60], [659], s=72, color='#6ccbf0', lw=0)
ov.scatter([60], [659], s=20, marker=(6, 2, 0), color='white', lw=0.5)
ov.text(75, 659, 'Risque neige', va='center', fontsize=7.3, family=MONO)

ov.text(340, 652, '30 Perts.', va='center', fontsize=7.3, family=MONO)
for k, c in enumerate(member_colors):
    ov.add_patch(Rectangle((400 + 11 * k, 650), 10, 6, color=c, lw=0))
    ov.text(405 + 11 * k, 644, f'{k + 1:02d}', ha='center', va='center', fontsize=5.6,
            family=MONO, weight='bold')

ov.add_patch(Rectangle((20, 667), 420, 31, fill=False, ec='black', lw=1))
ov.text(30, 677, 'Diagramme des ensembles GEFS sur 384h pour Izmit', va='center',
        fontsize=8.3, family=MONO, weight='bold')
ov.text(30, 691, 'Températures 850hPa et 500hPa (°C) , précipitations (mm)', va='center',
        fontsize=7.1, family=MONO)
ov.text(449, 676, 'Ensemble GEFS du 16/01/2026 - 00Z', va='center', fontsize=7.1, family=MONO)
ov.text(449, 691, 'Copyright 2026 Meteociel.fr', va='center', fontsize=8.3, family=MONO,
        weight='bold')

fig.savefig('out.png', dpi=100)
